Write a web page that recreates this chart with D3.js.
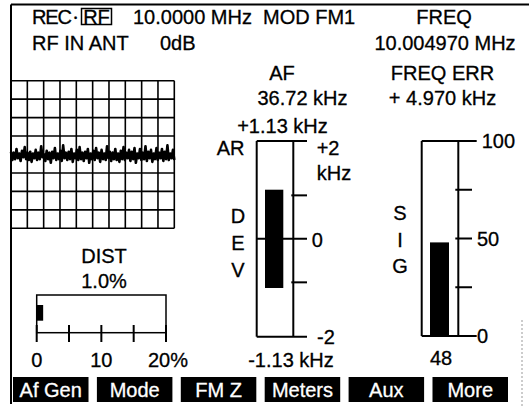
<!DOCTYPE html>
<html>
<head>
<script type="text/javascript" src="https://cdn.jsdelivr.net/npm/d3@7"></script>
<script type="text/javascript">
	// readouts on the screen
	const headerLeft = ["REC", "RF", "10.0000 MHz", "MOD FM1"];
	const headerLine2 = ["RF IN ANT", "0dB"];
	const freqTitle = "FREQ", freqValue = "10.004970 MHz";
	const freqErrTitle = "FREQ ERR", freqErrValue = "+ 4.970 kHz";
	const afTitle = "AF", afValue = "36.72 kHz";

	// scope trace, in divisions from the centre line
	const scopeTrace = [
		0.15,-0.30,0.10,-0.25,0.30,-0.20,0.05,-0.35,0.20,-0.15,
		0.40,-0.25,0.10,-0.30,0.15,-0.40,0.05,-0.20,0.25,-0.30,
		0.10,-0.25,0.45,-0.15,0.00,-0.35,0.20,-0.25,0.10,-0.45,
		0.15,-0.20,0.35,-0.30,0.05,-0.25,0.20,-0.35,0.50,-0.20,
		0.10,-0.30,0.15,-0.25,0.30,-0.40,0.05,-0.20,0.25,-0.30,
		0.40,-0.25,0.10,-0.35,0.15,-0.20,0.30,-0.45,0.05,-0.25,
		0.20,-0.30,0.35,-0.20,0.10,-0.40,0.25,-0.25,0.05,-0.30,
		0.45,-0.20,0.15,-0.35,0.10,-0.25,0.30,-0.30,0.05,-0.40,
		0.20,-0.25,0.40,-0.30,0.10,-0.20,0.25,-0.35,0.15,-0.25,
		0.35,-0.45,0.05,-0.20,0.30,-0.30,0.10,-0.25,0.45,-0.35,
		0.15,-0.20,0.25,-0.40,0.05,-0.25,0.35,-0.30,0.10,-0.20,
		0.30,-0.35,0.15,-0.25,0.50,-0.30,0.05,-0.20,0.25,-0.30
	];

	// distortion meter
	const distTitle = "DIST", distValue = 1.0;
	const distTicks = [0, 5, 10, 15, 20];
	const distTickLabels = ["0", "10", "20%"];
	const distLabelValues = [0, 10, 20];

	// deviation meter (kHz)
	const devPeaks = [1.13, -1.13];
	const devPeakLabels = ["+1.13 kHz", "-1.13 kHz"];
	const devTicks = [-1, 0, 1];
	const devEndLabels = ["+2", "-2"];

	// signal strength meter
	const sigValue = 48;
	const sigTicks = [25, 50, 75];
	const sigTickLabels = [0, 50, 100];

	const softkeys = ["Af Gen", "Mode", "FM Z", "Meters", "Aux", "More"];

	window.onload = function() {
		let width = 529, height = 406;
		let svg = d3.select("#screen").append("svg")
			.attr("width", width)
			.attr("height", height);

		function label(x, y, txt, anchor) {
			return svg.append("text")
				.attr("class", "lbl")
				.attr("x", x).attr("y", y)
				.attr("text-anchor", anchor || "start")
				.text(txt);
		}
		function line(x1, y1, x2, y2, cls) {
			return svg.append("line")
				.attr("class", cls || "frame")
				.attr("x1", x1).attr("y1", y1)
				.attr("x2", x2).attr("y2", y2);
		}

		// outer frame
		line(11, 4.5, 529, 4.5);
		line(11, 4.5, 11, 404);
		line(522, 320, 522, 406, "faint");

		// header
		label(32, 24, headerLeft[0]).attr("textLength", 40);
		label(74, 21, "\u2022").style("font-size", "9px");
		svg.append("rect").attr("class", "box")
			.attr("x", 81.5).attr("y", 8.5).attr("width", 30).attr("height", 16);
		label(96.5, 24, headerLeft[1], "middle");
		label(133, 24, headerLeft[2]);
		label(263, 24, headerLeft[3]);
		label(32, 50, headerLine2[0]);
		label(160, 50, headerLine2[1]);
		label(444, 24, freqTitle, "middle");
		label(445, 50, freqValue, "middle");

		// scope
		let scopeX = d3.scaleLinear().domain([0, 10]).range([11, 174.3]);
		let scopeY = d3.scaleLinear().domain([-4, 4]).range([228.3, 80.7]);
		let grid = svg.append("g");
		grid.selectAll(".vg").data(d3.range(0, 11)).enter()
			.append("line").attr("class", "grid")
			.attr("x1", d => scopeX(d)).attr("x2", d => scopeX(d))
			.attr("y1", scopeY(4)).attr("y2", scopeY(-4));
		grid.selectAll(".hg").data(d3.range(-4, 5)).enter()
			.append("line").attr("class", "grid")
			.attr("x1", scopeX(0)).attr("x2", scopeX(10))
			.attr("y1", d => scopeY(d)).attr("y2", d => scopeY(d));
		let traceX = d3.scaleLinear().domain([0, scopeTrace.length - 1]).range([11, 174.3]);
		let traceLine = d3.line()
			.x((d, i) => traceX(i))
			.y(d => scopeY(d));
		svg.append("path").attr("class", "trace").attr("d", traceLine(scopeTrace));

		// DIST meter
		let distX = d3.scaleLinear().domain([0, 20]).range([36.7, 166]);
		label(104, 263, distTitle, "middle");
		label(104, 288, distValue.toFixed(1) + "%", "middle");
		svg.append("rect").attr("class", "box")
			.attr("x", distX(0)).attr("y", 295)
			.attr("width", distX(20) - distX(0)).attr("height", 332.7 - 295);
		svg.selectAll(".dtick").data(distTicks).enter()
			.append("line").attr("class", "frame")
			.attr("x1", d => distX(d)).attr("x2", d => distX(d))
			.attr("y1", 325).attr("y2", 342);
		svg.append("rect").attr("class", "bar")
			.attr("x", distX(0)).attr("y", 305)
			.attr("width", distX(distValue) - distX(0)).attr("height", 15.7);
		svg.selectAll(".dlab").data(distLabelValues).enter()
			.append("text").attr("class", "lbl")
			.attr("x", (d, i) => distX(d) + (i == 2 ? 2 : 0)).attr("y", 367)
			.attr("text-anchor", "middle")
			.text((d, i) => distTickLabels[i]);

		// DEV meter, the frame spans +-2.25 kHz with +2/-2 written at its ends
		let devY = d3.scaleLinear().domain([-2.25, 2.25]).range([336.7, 141]);
		let devL = 256.7, devR = 293.3, devTickEnd = 307;
		label(282, 80, afTitle, "middle");
		label(302.5, 105, afValue, "middle");
		label(282.5, 133, devPeakLabels[0], "middle");
		label(291, 367, devPeakLabels[1], "middle");
		label(216.7, 155, "AR");
		line(devL, devY.range()[1], devL, devY.range()[0]);
		line(devR, devY.range()[1], devR, devY.range()[0]);
		line(devL, devY(2.25), devTickEnd, devY(2.25));
		line(devL, devY(-2.25), devTickEnd, devY(-2.25));
		svg.selectAll(".vtick").data(devTicks).enter()
			.append("line").attr("class", "frame")
			.attr("x1", d => d == 0 ? devL : devR - 2).attr("x2", devTickEnd)
			.attr("y1", d => devY(d)).attr("y2", d => devY(d));
		svg.append("rect").attr("class", "bar")
			.attr("x", 265).attr("width", 18.3)
			.attr("y", devY(devPeaks[0]))
			.attr("height", devY(devPeaks[1]) - devY(devPeaks[0]));
		"DEV".split("").forEach((c, i) => label(238, 223 + i * 26.8, c, "middle"));
		label(316.7, 155, devEndLabels[0]);
		label(316.7, 180, "kHz");
		label(311.7, devY(0) + 8, "0");
		label(317, devY(-2.25) + 7, devEndLabels[1]);

		// SIG meter
		let sigY = d3.scaleLinear().domain([0, 100]).range([336, 141]);
		let sigL = 421.7, sigR = 458.3, sigTickEnd = 472;
		label(442.5, 80, freqErrTitle, "middle");
		label(442.5, 105, freqErrValue, "middle");
		line(sigL, sigY(100), sigL, sigY(0));
		line(sigR, sigY(100), sigR, sigY(0));
		line(sigL, sigY(100), 476.7, sigY(100));
		line(sigL, sigY(0), 476.7, sigY(0));
		svg.selectAll(".stick").data(sigTicks).enter()
			.append("line").attr("class", "frame")
			.attr("x1", sigR - 3).attr("x2", sigTickEnd)
			.attr("y1", d => sigY(d)).attr("y2", d => sigY(d));
		svg.append("rect").attr("class", "bar")
			.attr("x", 430).attr("width", 19)
			.attr("y", sigY(sigValue))
			.attr("height", sigY(0) - sigY(sigValue));
		svg.selectAll(".slab").data(sigTickLabels).enter()
			.append("text").attr("class", "lbl")
			.attr("x", d => d == 100 ? 481.7 : 477)
			.attr("y", d => sigY(d) + 7)
			.text(d => d);
		"SIG".split("").forEach((c, i) => label(400, 220 + i * 26.5, c, "middle"));
		label(441, 365, sigValue, "middle");

		// softkeys
		let keyX = d3.scaleBand().domain(softkeys).range([13, 508]).paddingInner(0.1);
		let keys = svg.selectAll(".key").data(softkeys).enter().append("g");
		keys.append("rect").attr("class", "bar")
			.attr("x", d => keyX(d)).attr("y", 377)
			.attr("width", keyX.bandwidth()).attr("height", 25);
		keys.append("text").attr("class", "lbl key")
			.attr("x", d => keyX(d) + keyX.bandwidth() / 2).attr("y", 397)
			.attr("text-anchor", "middle")
			.text(d => d);
	}
</script>
</head>
<body>
	<div id="screen"></div>
</body>
<style>
	body {
		margin: 0;
		background-color: #fff;
	}
	svg { display: block; }
	.lbl {
		font-family: "Liberation Sans", Arial, Helvetica, sans-serif;
		font-size: 20px;
		fill: #000;
		stroke: #000;
		stroke-width: 0.3;
	}
	.key { fill: #fff; stroke: #fff; }
	.frame, .box, .grid {
		stroke: #000;
		stroke-width: 2;
		fill: none;
	}
	.box { stroke-width: 1.5; }
	.grid { stroke-width: 1.6; }
	.faint {
		stroke: #999;
		stroke-width: 1;
		stroke-dasharray: 2, 2;
	}
	.bar { fill: #000; }
	.trace {
		fill: none;
		stroke: #000;
		stroke-width: 2.6;
		stroke-linejoin: round;
	}
</style>
</html>
